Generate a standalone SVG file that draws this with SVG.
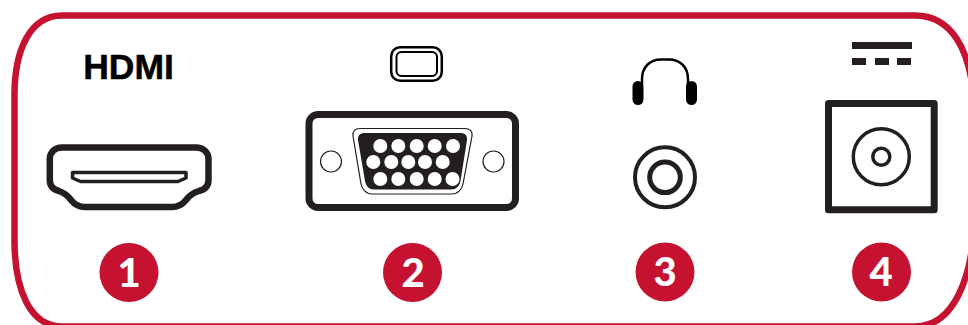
<svg xmlns="http://www.w3.org/2000/svg" width="968" height="325" viewBox="0 0 968 325">
<style>
.frame{fill:none;stroke:#c41230;stroke-width:6.5}
.k{fill:none;stroke:#231f20}
.b{fill:none;stroke:#000}
.badge{fill:#c41230}
.num{font-family:"Lato","Open Sans",sans-serif;font-weight:900;font-size:40px;fill:#fff;text-anchor:middle}
.pin{fill:#fff}
</style>
<rect width="968" height="325" fill="#fff"/>
<path id="frame" class="frame" d="M62 15.500H915C952 15.500 970 50 974 100V225C972 275 955 326.500 915 326.500H62C30 326.500 14.500 290 14.500 240V95C14.500 50 30 15.500 62 15.500Z"/>
<g id="port-hdmi">
<text x="128.500" y="79" font-family="'Liberation Sans',Arial,sans-serif" font-weight="700" font-size="35.500" fill="#000" stroke="#000" stroke-width="0.500" text-anchor="middle">HDMI</text>
<path class="k" stroke-width="6.500" stroke-linejoin="round" d="M62 147.500H196C203 147.500 208.500 152 208.500 159V180C208.500 186 205 189.500 199 191C192 193 189 196 186 200C182 205 178 207 172 207H85C79 207 75 205 71 200C68 196 65 193 59 191C53 189.500 49.800 186 49.800 180V159C49.800 152 55 147.500 62 147.500Z"/>
<path class="k" stroke-width="3.500" stroke-linejoin="round" d="M72.500 172.500H186V178L178 181.500H80.500L72.500 178Z"/>
</g>
<g id="badge-1"><circle class="badge" cx="129" cy="272.500" r="29.500"/><text class="num" x="129" y="286.500">1</text></g>
<g id="port-vga">
<rect class="b" stroke-width="2.500" x="391.200" y="47.200" width="50.600" height="33.500" rx="9"/>
<rect class="b" stroke-width="2" x="396.500" y="52" width="40.500" height="24" rx="5"/>
<rect class="k" stroke-width="7" x="309" y="114.500" width="206.500" height="93" rx="9"/>
<circle class="k" stroke-width="1.200" cx="331" cy="161.500" r="10.500"/>
<circle class="k" stroke-width="1.200" cx="493.500" cy="161.500" r="10.500"/>
<path class="k" stroke-width="1.200" d="M360 128.500H465C470 128.500 472.500 131 472 136L463 184C462 189 458 194 452 194H372C366 194 362 189 361 184L353 136C352.500 131 355 128.500 360 128.500Z"/>
<path fill="#231f20" d="M365 133H460C465 133 467.500 135.500 467 140L460.500 181C459.500 186 456 189.500 451 189.500H374C369 189.500 366 186 365 181L358 140C357.500 135.500 360 133 365 133Z"/>
<g class="pin">
<circle cx="380.300" cy="146" r="7"/><circle cx="398.300" cy="146" r="7"/><circle cx="416.700" cy="146" r="7"/><circle cx="434.700" cy="146" r="7"/><circle cx="453" cy="146" r="7"/>
<circle cx="373.300" cy="162" r="7"/><circle cx="391.300" cy="162" r="7"/><circle cx="408.300" cy="162" r="7"/><circle cx="425" cy="162" r="7"/><circle cx="442.700" cy="162" r="7"/>
<circle cx="380.300" cy="179" r="7"/><circle cx="398.300" cy="179" r="7"/><circle cx="416.700" cy="179" r="7"/><circle cx="434.700" cy="179" r="7"/><circle cx="452.500" cy="179" r="7"/>
</g>
</g>
<g id="badge-2"><circle class="badge" cx="412.500" cy="272.500" r="29.500"/><text class="num" x="413" y="286.500">2</text></g>
<g id="port-audio">
<path class="b" stroke-width="2.500" d="M642 84V79C642 67 650 59.500 661 59.500H669C680 59.500 688 67 688 79V84"/>
<rect x="632.500" y="81" width="11" height="24" rx="5.500" fill="#000"/>
<rect x="686" y="81" width="11" height="24" rx="5.500" fill="#000"/>
<circle class="k" stroke-width="4" cx="665" cy="177.300" r="30"/>
<circle class="k" stroke-width="5" cx="665" cy="177.300" r="15.300"/>
</g>
<g id="badge-3"><circle class="badge" cx="665" cy="272" r="29.500"/><text class="num" x="665" y="286">3</text></g>
<g id="port-dc">
<rect x="852" y="42" width="60" height="7" fill="#231f20"/>
<rect x="852" y="58" width="14" height="7" fill="#231f20"/><rect x="875" y="58" width="14" height="7" fill="#231f20"/><rect x="897" y="58" width="14" height="7" fill="#231f20"/>
<rect class="k" stroke-width="7" stroke-linejoin="round" x="828.500" y="103.500" width="105.700" height="106.300"/>
<circle class="k" stroke-width="3.500" cx="881.300" cy="156.700" r="28"/>
<circle class="k" stroke-width="3.500" cx="881.300" cy="156.700" r="8.500"/>
</g>
<g id="badge-4"><circle class="badge" cx="881.500" cy="272" r="29.500"/><text class="num" x="881" y="286">4</text></g>
</svg>
